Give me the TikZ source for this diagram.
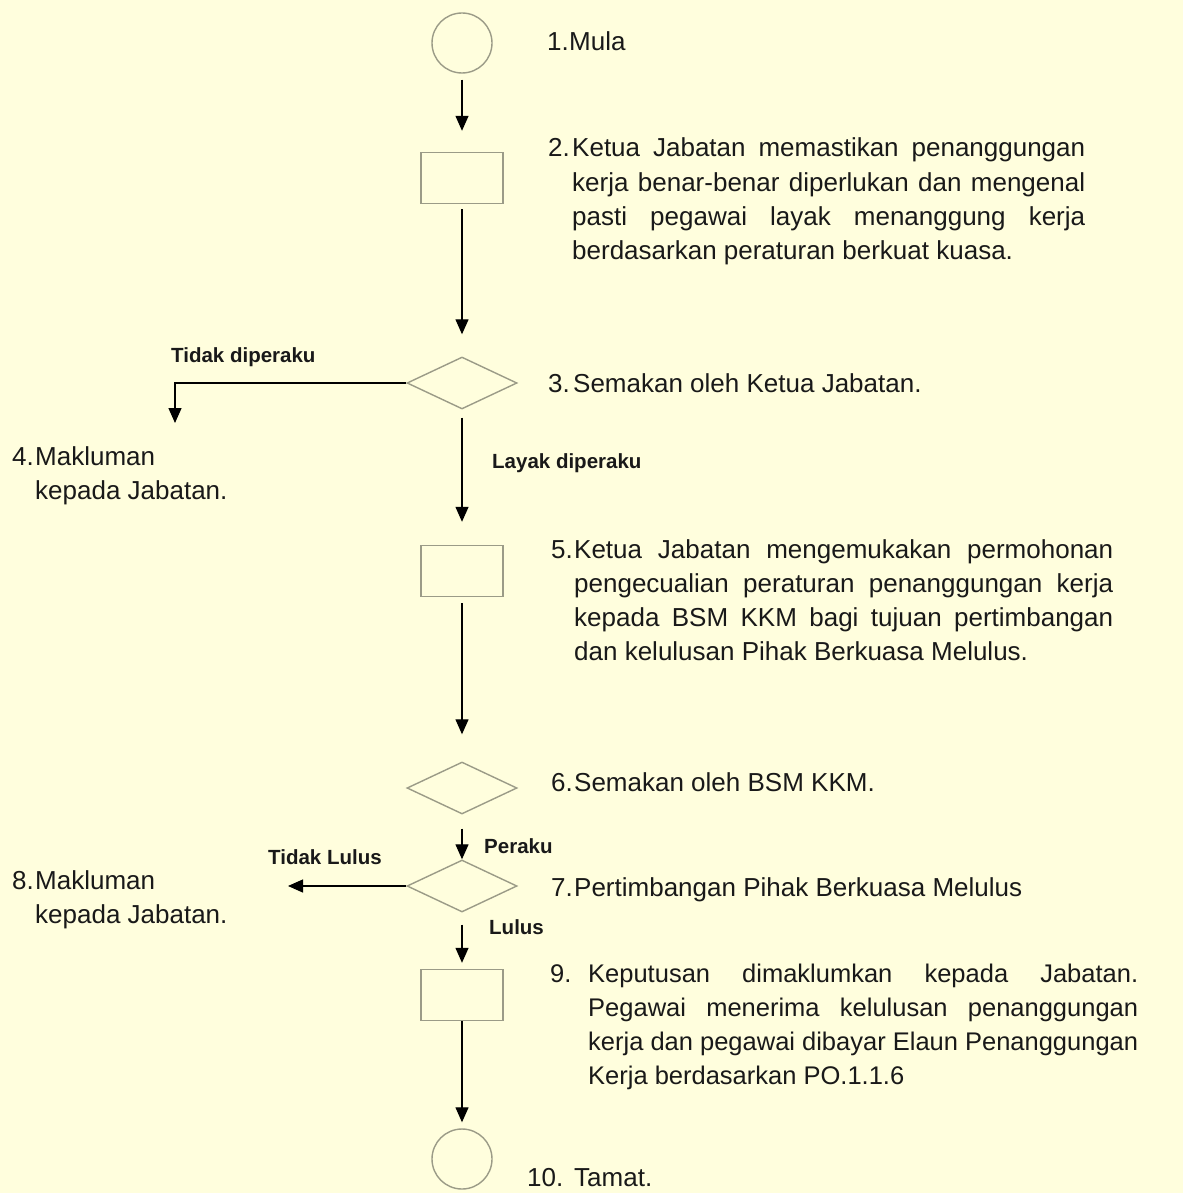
\documentclass[tikz,border=0pt]{standalone}
\usepackage{fontspec}
\setmainfont{Liberation Sans}
\usetikzlibrary{arrows.meta,shapes.geometric}
\definecolor{bgc}{RGB}{255,254,221}
\definecolor{shapec}{RGB}{155,155,135}
\definecolor{txtc}{RGB}{25,25,25}
\newcommand\numbox[2]{\makebox[#1][l]{#2}}
\newcommand\jline[2]{\makebox[#1][s]{#2}}
\tikzset{
  shp/.style={draw=shapec,line width=1.4pt,fill=bgc,inner sep=0pt},
  startend/.style={shp,circle,minimum size=60pt},
  procbox/.style={shp,rectangle,minimum width=82pt,minimum height=51pt},
  decbox/.style={shp,diamond,minimum width=110pt,minimum height=52pt},
  arr/.style={draw=black,line width=1.3pt,-{Triangle[length=15pt,width=13pt]}},
  desc/.style={anchor=base west,inner sep=0pt,text=txtc,font=\fontsize{26pt}{34.3pt}\selectfont},
  descsm/.style={desc,font=\fontsize{25.5pt}{34pt}\selectfont},
  lbl/.style={anchor=base west,inner sep=0pt,text=txtc,font=\fontsize{20.5pt}{24pt}\selectfont\bfseries},
}
\begin{document}
\begin{tikzpicture}[x=1pt,y=-1pt]
\fill[bgc] (0,0) rectangle (1183,1193);
\useasboundingbox (0,0) rectangle (1183,1193);

% shapes
\node[startend] (c1) at (462,43) {};
\node[procbox] (r2) at (462,178) {};
\node[decbox] (d3) at (462,383) {};
\node[procbox] (r5) at (462,571) {};
\node[decbox] (d6) at (462,788) {};
\node[decbox] (d7) at (462,886) {};
\node[procbox] (r9) at (462,995) {};
\node[startend] (c10) at (462,1159) {};

\coordinate (m4) at (175,423);
\coordinate (m8) at (288,886);

% connectors
\draw[arr,shorten <=6pt,shorten >=21pt] (c1) -- (r2);
\draw[arr,shorten <=5pt,shorten >=22pt] (r2) -- (d3);
\draw[arr] (d3.west) -| (m4);
\draw[arr,shorten <=8pt,shorten >=23pt] (d3) -- (r5);
\draw[arr,shorten <=6pt,shorten >=27pt] (r5) -- (d6);
\draw[arr,shorten <=14pt,shorten >=0pt] (d6) -- (d7);
\draw[arr] (d7.west) -- (m8);
\draw[arr,shorten <=12pt,shorten >=6pt] (d7) -- (r9);
\draw[arr,shorten <=0pt,shorten >=6pt] (r9) -- (c10);

% labels on connectors
\node[lbl] (l3a) at (171,362) {Tidak diperaku};
\node[lbl] (l3b) at (492,468) {Layak diperaku};
\node[lbl] (l6) at (484,853) {Peraku};
\node[lbl] (l7a) at (268,864) {Tidak Lulus};
\node[lbl] (l7b) at (489,934) {Lulus};

% descriptions
\node[desc] (t1) at (547,51) {\numbox{22pt}{1.}Mula};
\node[desc] (t2) at (548,157) {\begin{tabular}[t]{@{}l@{}}
\numbox{24pt}{2.}\jline{513pt}{Ketua Jabatan memastikan penanggungan}\\
\hspace*{24pt}\jline{513pt}{kerja benar-benar diperlukan dan mengenal}\\
\hspace*{24pt}\jline{513pt}{pasti pegawai layak menanggung kerja}\\
\hspace*{24pt}berdasarkan peraturan berkuat kuasa.
\end{tabular}};
\node[desc] (t3) at (548,392) {\numbox{25pt}{3.}Semakan oleh Ketua Jabatan.};
\node[desc] (t4) at (12,465) {\begin{tabular}[t]{@{}l@{}}
\numbox{23pt}{4.}Makluman\\
\hspace*{23pt}kepada Jabatan.
\end{tabular}};
\node[desc] (t5) at (551,558) {\begin{tabular}[t]{@{}l@{}}
\numbox{23pt}{5.}\jline{539pt}{Ketua Jabatan mengemukakan permohonan}\\
\hspace*{23pt}\jline{539pt}{pengecualian peraturan penanggungan kerja}\\
\hspace*{23pt}\jline{539pt}{kepada BSM KKM bagi tujuan pertimbangan}\\
\hspace*{23pt}dan kelulusan Pihak Berkuasa Melulus.
\end{tabular}};
\node[desc] (t6) at (551,791) {\numbox{23pt}{6.}Semakan oleh BSM KKM.};
\node[desc] (t7) at (551,896) {\numbox{23pt}{7.}Pertimbangan Pihak Berkuasa Melulus};
\node[desc] (t8) at (12,889) {\begin{tabular}[t]{@{}l@{}}
\numbox{23pt}{8.}Makluman\\
\hspace*{23pt}kepada Jabatan.
\end{tabular}};
\node[descsm] (t9) at (550,982) {\begin{tabular}[t]{@{}l@{}}
\numbox{38pt}{9.}\jline{550pt}{Keputusan dimaklumkan kepada Jabatan.}\\
\hspace*{38pt}\jline{550pt}{Pegawai menerima kelulusan penanggungan}\\
\hspace*{38pt}\jline{550pt}{kerja dan pegawai dibayar Elaun Penanggungan}\\
\hspace*{38pt}Kerja berdasarkan PO.1.1.6
\end{tabular}};
\node[desc] (t10) at (527,1186) {\numbox{47pt}{10.}Tamat.};
\end{tikzpicture}
\end{document}
